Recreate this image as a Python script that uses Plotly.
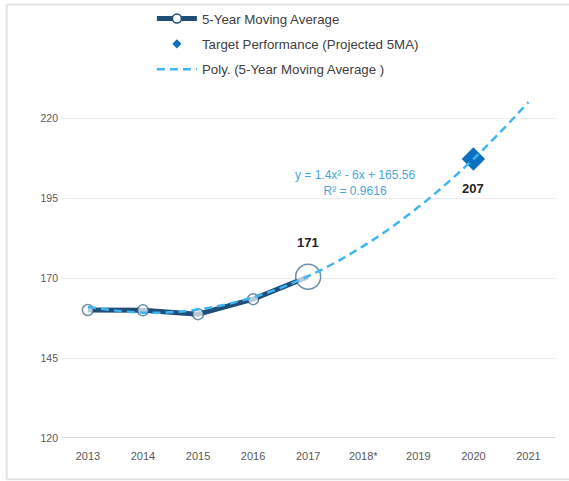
import numpy as np
import plotly.graph_objects as go

categories = ["2013", "2014", "2015", "2016", "2017", "2018*", "2019", "2020", "2021"]
ma_years = ["2013", "2014", "2015", "2016", "2017"]
ma_values = [160.0, 159.9, 158.7, 163.4, 170.4]
target_year = ["2020"]
target_value = [207.2]
trend_coeffs = [1.4, -6.0, 165.56]  # y = 1.4x^2 - 6x + 165.56, x = 1..9
y_ticks = [120, 145, 170, 195, 220]

NAVY = "#1f4e79"
EDGE = "#2f6282"
LIGHT = "#3fb5f2"
TARGET = "#0a70bf"
GRAY = "#595959"
FONT = "Liberation Sans, Arial"

xs = np.arange(1, len(categories) + 1)
trend_vals = np.polyval(trend_coeffs, xs)
idx = {c: i for i, c in enumerate(categories)}

fig = go.Figure()

fig.add_trace(go.Scatter(
    x=ma_years, y=ma_values, mode="lines+markers",
    line=dict(color=NAVY, width=5),
    marker=dict(symbol="circle", size=[11, 11, 11, 11, 25], color="white",
                line=dict(color=EDGE, width=1.5)),
    showlegend=False, hoverinfo="skip"))

fig.add_trace(go.Scatter(
    x=target_year, y=target_value, mode="markers",
    marker=dict(symbol="diamond", size=18, color=TARGET),
    showlegend=False, hoverinfo="skip"))

fig.add_trace(go.Scatter(
    x=categories, y=trend_vals, mode="lines",
    line=dict(color=LIGHT, width=2.5, dash="8px,5px", shape="spline"),
    showlegend=False, hoverinfo="skip"))

fig.add_trace(go.Scatter(
    x=[None], y=[None], mode="lines+markers", name="5-Year Moving Average",
    line=dict(color=NAVY, width=5), legendgroup="a",
    marker=dict(symbol="circle", size=9, color="white", line=dict(color=NAVY, width=1.5))))
fig.add_trace(go.Scatter(
    x=[None], y=[None], mode="markers", name="Target Performance (Projected 5MA)",
    legendgroup="b", marker=dict(symbol="diamond", size=7, color=TARGET)))
fig.add_trace(go.Scatter(
    x=[None], y=[None], mode="lines", name="Poly. (5-Year Moving Average )",
    legendgroup="c", line=dict(color=LIGHT, width=2.5, dash="8px,5px")))

fig.add_annotation(x=idx[ma_years[-1]], y=ma_values[-1], text="<b>171</b>", showarrow=False,
                   yshift=34, font=dict(size=13, color="#262626", family=FONT))
fig.add_annotation(x=idx[target_year[0]], y=target_value[0], text="<b>207</b>", showarrow=False,
                   yshift=-30, font=dict(size=13, color="#262626", family=FONT))
fig.add_annotation(x=idx["2018*"], y=207.2, text="y = 1.4x² - 6x + 165.56<br>R² = 0.9616",
                   showarrow=False, xshift=-8, yshift=-24,
                   font=dict(size=12, color="#4aa6dc", family=FONT))

for x0, y0, x1, y1 in [(-0.112, -0.12, -0.112, 1.264), (-0.112, 1.264, 1.05, 1.264),
                       (-0.112, -0.12, 1.05, -0.12)]:
    fig.add_shape(type="line", xref="paper", yref="paper", x0=x0, y0=y0, x1=x1, y1=y1,
                  line=dict(color="#e3e3e3", width=2))

fig.update_layout(
    width=569, height=481,
    margin=dict(l=62, r=13, t=95, b=43, autoexpand=False),
    paper_bgcolor="white", plot_bgcolor="white",
    font=dict(family=FONT, color=GRAY, size=10),
    legend=dict(x=0.182, y=1.267, xanchor="left", yanchor="top",
                font=dict(size=13.3, color="#404040", family=FONT),
                tracegroupgap=5, bgcolor="rgba(0,0,0,0)", itemwidth=40),
    xaxis=dict(type="category", categoryorder="array", categoryarray=categories,
               range=[-0.47, 8.5], showgrid=False, showline=False, zeroline=False,
               ticks="", ticklabelstandoff=10, tickfont=dict(size=11, color=GRAY)),
    yaxis=dict(range=[120, 227.2], tickvals=y_ticks, showgrid=True, gridcolor="#ececec",
               gridwidth=1, zeroline=False, showline=False, ticks="",
               ticklabelstandoff=3, tickfont=dict(size=10.5, color=GRAY)),
)
fig.add_hline(y=120, line=dict(color="#d9d9d9", width=2), layer="below")

fig.write_html("out.html", config={"displayModeBar": False},
               post_script="document.body.style.margin='0px';")
